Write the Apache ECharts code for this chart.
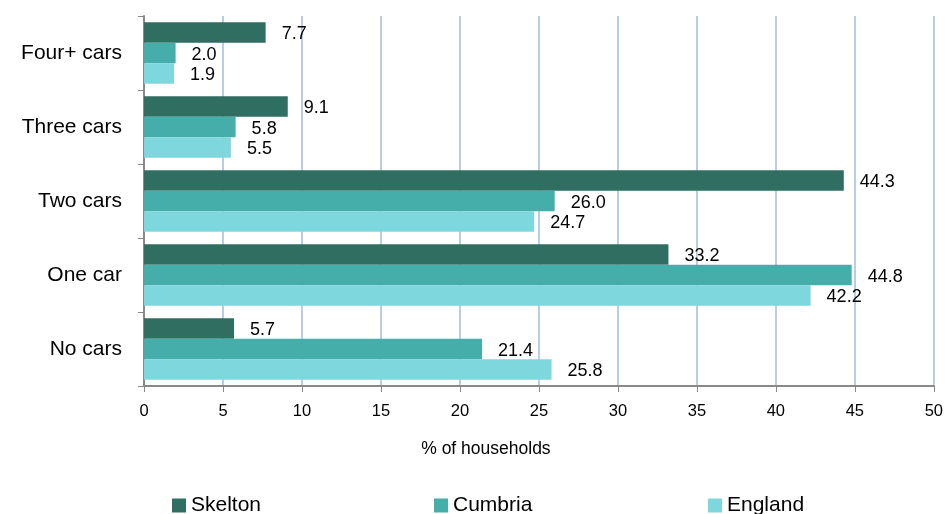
<!DOCTYPE html>
<html><head><meta charset="utf-8">
<script src="https://cdn.jsdelivr.net/npm/echarts@6/dist/echarts.min.js"></script>
<style>html,body{margin:0;padding:0;background:#fff}#c{width:946px;height:514px}</style>
</head><body><div id="c"></div>
<script>
const categories = ['Four+ cars','Three cars','Two cars','One car','No cars'];
const skelton = [7.7, 9.1, 44.3, 33.2, 5.7];
const cumbria = [2.0, 5.8, 26.0, 44.8, 21.4];
const england = [1.9, 5.5, 24.7, 42.2, 25.8];
const seriesNames = ['Skelton','Cumbria','England'];
const colors = ['#306e62','#46aeaa','#7fd7de'];
const FONT = 'Liberation Sans, Arial, sans-serif';

const chart = echarts.init(document.getElementById('c'), null, {renderer:'canvas'});
const mk = (name, data, color) => ({
  name, type:'bar', data, barGap:'0%', barCategoryGap:'17%',
  itemStyle:{color},
  label:{show:true, position:'right', distance:16, offset:[0,2], color:'#000', fontFamily:FONT, fontSize:18,
    formatter:p=>p.value.toFixed(1)}
});
const legendText = {fontSize:21, color:'#000', fontFamily:FONT};
chart.setOption({
  animation:false,
  textStyle:{fontFamily:FONT},
  grid:{left:144, right:11, top:16, bottom:128, containLabel:false},
  xAxis:{type:'value', min:0, max:50, interval:5,
    name:'% of households', nameLocation:'middle', nameGap:54,
    nameTextStyle:{color:'#000', fontSize:17.5, fontFamily:FONT, padding:[0,106,0,0]},
    axisLine:{show:true, lineStyle:{color:'#888', width:2}},
    axisTick:{show:true, length:6, lineStyle:{color:'#888'}},
    axisLabel:{color:'#000', fontSize:16.5, margin:17, fontFamily:FONT},
    splitLine:{show:true, lineStyle:{color:'#b9cde5', width:2}}},
  yAxis:{type:'category', data:categories, inverse:true,
    axisLine:{show:true, lineStyle:{color:'#888', width:2}},
    axisTick:{show:true, length:6, lineStyle:{color:'#888'}},
    axisLabel:{color:'#000', fontSize:21, margin:22, fontFamily:FONT}},
  legend:[
    {data:['Skelton'], left:172, top:495, padding:0, itemWidth:14, itemHeight:14, textStyle:legendText, icon:'rect'},
    {data:['Cumbria'], left:434, top:495, padding:0, itemWidth:14, itemHeight:14, textStyle:legendText, icon:'rect'},
    {data:['England'], left:708, top:495, padding:0, itemWidth:14, itemHeight:14, textStyle:legendText, icon:'rect'}
  ],
  series:[mk(seriesNames[0], skelton, colors[0]), mk(seriesNames[1], cumbria, colors[1]), mk(seriesNames[2], england, colors[2])]
});
</script></body></html>
